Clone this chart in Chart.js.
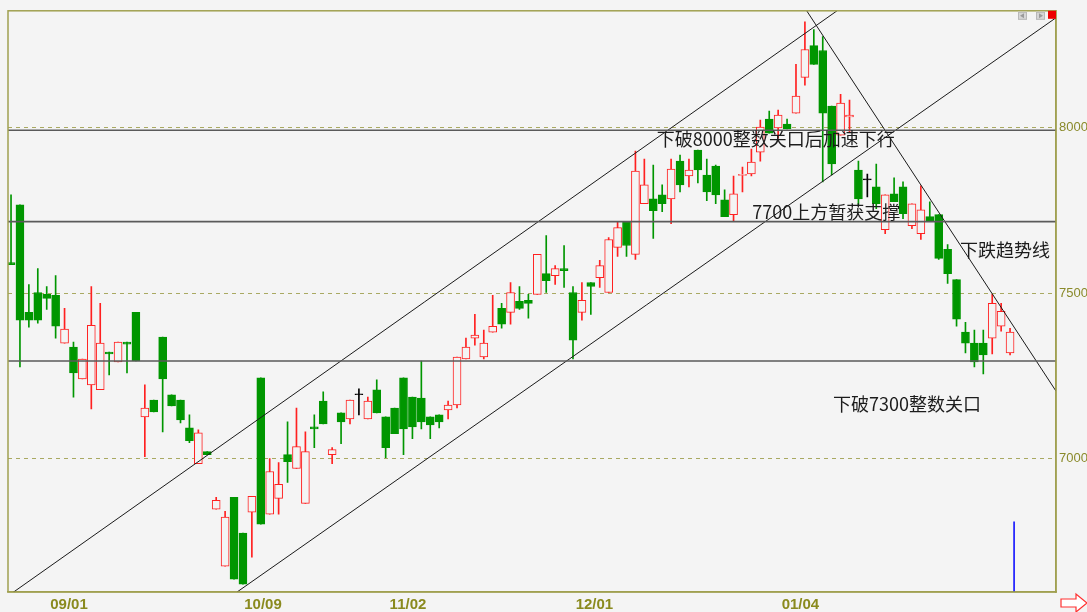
<!DOCTYPE html>
<html>
<head>
<meta charset="utf-8">
<script src="https://cdn.jsdelivr.net/npm/chart.js@4.4.0/dist/chart.umd.min.js"></script>
<style>
html, body { margin: 0; padding: 0; background: #f4f4f4; }
#wrap { width: 1087px; height: 612px; position: relative; }
</style>
</head>
<body>
<div id="wrap"><canvas id="chart"></canvas></div>
<script>
// daily candles
const openP = [7592,7767,7442,7502,7496,7493,7349,7337,7241,7223,7208,7322,7292,7352,7442,7126,7177,7367,7193,7177,
  7093,6985,7021,6847,6675,6883,6775,6838,7244,6832,6880,7012,6970,6865,7096,7174,7012,7138,7120,7193,
  7120,7208,7126,7153,7244,7186,7183,7126,7132,7147,7162,7301,7364,7307,7382,7454,7442,7475,7478,7496,
  7559,7553,7574,7502,7442,7532,7547,7502,7638,7716,7617,7770,7785,7797,7785,7899,7854,7932,7857,7884,
  7782,7737,7856,7860,7926,8026,7999,8011,8044,8152,8248,8233,8065,7977,8032,7872,7842,7821,7692,7800,
  7821,7704,7680,7731,7737,7632,7541,7382,7349,7349,7364,7400,7319];
const highP = [7797,7767,7526,7574,7520,7553,7454,7352,7301,7520,7469,7322,7352,7352,7442,7223,7177,7367,7193,7177,
  7132,7087,7021,6883,6841,6883,6775,6886,7244,7000,6988,7111,7153,7081,7132,7202,7033,7138,7177,7211,
  7186,7238,7126,7153,7244,7186,7295,7126,7132,7174,7307,7364,7436,7388,7493,7469,7532,7520,7496,7617,
  7674,7583,7644,7520,7532,7532,7599,7668,7716,7716,7929,7905,7887,7827,7905,7917,7905,7932,7905,7887,
  7812,7854,7881,7935,8023,8050,8053,8026,8191,8320,8296,8275,8065,8101,8083,7899,7860,7890,7797,7848,
  7836,7770,7824,7776,7737,7647,7541,7412,7388,7388,7496,7469,7394];
const lowP = [7586,7277,7397,7409,7451,7364,7349,7186,7241,7150,7208,7253,7292,7259,7295,7006,7141,7081,7159,7108,
  7048,6985,7012,6847,6675,6636,6621,6702,6802,6832,6832,6928,6970,6865,7033,7105,6985,7045,7105,7132,
  7120,7138,7003,7075,7012,7060,7090,7060,7093,7120,7153,7301,7343,7301,7382,7394,7406,7451,7424,7496,
  7502,7526,7517,7301,7418,7436,7517,7502,7611,7611,7602,7770,7665,7746,7710,7806,7821,7833,7779,7770,
  7731,7719,7806,7854,7899,7983,7968,7996,8044,8128,8191,7836,7857,7977,7986,7767,7791,7755,7680,7776,
  7725,7695,7662,7719,7602,7529,7400,7319,7277,7256,7316,7385,7313];
const closeP = [7586,7418,7418,7418,7484,7400,7391,7259,7301,7403,7349,7316,7352,7346,7295,7153,7141,7241,7159,7117,
  7054,7078,7012,6874,6823,6636,6621,6886,6802,6961,6922,6991,7036,7021,7090,7105,7027,7111,7177,7193,
  7174,7138,7033,7075,7090,7096,7111,7102,7111,7162,7307,7337,7373,7349,7400,7406,7502,7454,7469,7617,
  7538,7574,7568,7358,7478,7520,7583,7662,7698,7644,7869,7827,7749,7770,7875,7827,7872,7872,7806,7797,
  7731,7800,7857,7896,8002,7983,8038,7996,8095,8236,8191,8044,7890,8074,8038,7785,7842,7770,7797,7776,
  7740,7770,7752,7719,7605,7559,7421,7349,7292,7313,7469,7445,7382];

const xTickPos = [6.5, 28.25, 44.5, 65.4, 88.5];
const xTickText = ['09/01', '10/09', '11/02', '12/01', '01/04'];
const yTickVals = [7000, 7500, 8000];

// drawn lines: [candle index, price]
const hLevels = [7992, 7716, 7295];
const channelUp = [[-0.34, 6585], [92.6, 8353]];
const channelLow = [[25.34, 6597], [117.15, 8332]];
const downTrend = [[89.2, 8353], [117.15, 7204]];
const cursorLine = [[112.45, 6597], [112.45, 6810]];

const notes = [
  ['下破8000整数关口后加速下行', 72.4, 7964],
  ['7700上方暂获支撑', 83.1, 7746],
  ['下跌趋势线', 106.4, 7629],
  ['下破7300整数关口', 92.15, 7165]
];

const X_MIN = -0.34, X_MAX = 117.15;
const Y_MIN = 6597, Y_MAX = 8353;

const UP = '#ff2020';
const DOWN = '#009600';
const FLAT = '#000000';
const BG = '#f4f4f4';
const OLIVE = '#a0a050';

function candleColor(i) {
  if (closeP[i] > openP[i]) return UP;
  if (closeP[i] < openP[i]) return DOWN;
  return FLAT;
}

function lineSet(points, color, width) {
  return {
    type: 'line',
    order: -1,
    data: points.map(p => ({ x: p[0], y: p[1] })),
    borderColor: color,
    borderWidth: width,
    pointRadius: 0,
    fill: false,
    tension: 0
  };
}

const datasets = [
  {
    type: 'bar',
    order: 1,
    grouped: false,
    barThickness: 1,
    data: lowP.map((l, i) => ({ x: i, y: [l, highP[i]] })),
    backgroundColor: closeP.map((c, i) => candleColor(i)),
    borderWidth: 0
  },
  {
    type: 'bar',
    order: 0,
    grouped: false,
    barThickness: 8,
    minBarLength: 1,
    borderSkipped: false,
    borderWidth: 1,
    data: openP.map((o, i) => ({ x: i, y: [o, closeP[i]] })),
    backgroundColor: closeP.map((c, i) => candleColor(i) === UP ? BG : candleColor(i)),
    borderColor: closeP.map((c, i) => candleColor(i))
  }
];

hLevels.forEach(v => datasets.push(lineSet([[X_MIN - 1, v], [X_MAX + 1, v]], '#5a5a5a', 1.6)));
datasets.push(lineSet(channelUp, '#1a1a1a', 1));
datasets.push(lineSet(channelLow, '#1a1a1a', 1));
datasets.push(lineSet(downTrend, '#1a1a1a', 1));
datasets.push(lineSet(cursorLine, '#0000ff', 1.5));

const decor = {
  id: 'decor',
  afterDraw(chart) {
    const { ctx, chartArea: a, scales } = chart;
    ctx.save();

    // notes
    ctx.font = '18px "Noto Sans CJK SC", sans-serif';
    ctx.fillStyle = '#1c1c1c';
    ctx.textBaseline = 'middle';
    ctx.textAlign = 'left';
    notes.forEach(n => {
      ctx.fillText(n[0], scales.x.getPixelForValue(n[1]), scales.y.getPixelForValue(n[2]));
    });

    // frame
    ctx.strokeStyle = OLIVE;
    ctx.lineWidth = 1.5;
    ctx.strokeRect(a.left, a.top, a.right - a.left, a.bottom - a.top);

    // scroll buttons top right
    [a.right - 38, a.right - 20].forEach((bx, k) => {
      ctx.fillStyle = '#d6d6d6';
      ctx.fillRect(bx, a.top + 1, 9, 8);
      ctx.strokeStyle = '#b8b8b8';
      ctx.lineWidth = 1;
      ctx.strokeRect(bx + 0.5, a.top + 1.5, 8, 7);
      ctx.fillStyle = '#9a9a9a';
      ctx.beginPath();
      if (k === 0) {
        ctx.moveTo(bx + 2, a.top + 5); ctx.lineTo(bx + 6, a.top + 2.5); ctx.lineTo(bx + 6, a.top + 7.5);
      } else {
        ctx.moveTo(bx + 7, a.top + 5); ctx.lineTo(bx + 3, a.top + 2.5); ctx.lineTo(bx + 3, a.top + 7.5);
      }
      ctx.fill();
    });
    ctx.fillStyle = '#ee0000';
    ctx.fillRect(a.right - 8, a.top, 8, 8);

    // arrow bottom right
    const ax = a.right + 5, ay = a.bottom + 11;
    ctx.beginPath();
    ctx.moveTo(ax, ay - 4);
    ctx.lineTo(ax + 15, ay - 4);
    ctx.lineTo(ax + 15, ay - 9);
    ctx.lineTo(ax + 26, ay);
    ctx.lineTo(ax + 15, ay + 9);
    ctx.lineTo(ax + 15, ay + 4);
    ctx.lineTo(ax, ay + 4);
    ctx.closePath();
    ctx.fillStyle = '#ffffff';
    ctx.fill();
    ctx.strokeStyle = '#ff3030';
    ctx.lineWidth = 1.2;
    ctx.stroke();

    ctx.restore();
  }
};

new Chart(document.getElementById('chart'), {
  type: 'bar',
  data: { datasets: datasets },
  options: {
    responsive: true,
    maintainAspectRatio: false,
    animation: false,
    events: [],
    layout: { padding: { left: 8, top: 8, right: 0, bottom: 0 } },
    plugins: { legend: { display: false }, tooltip: { enabled: false } },
    scales: {
      x: {
        type: 'linear',
        min: X_MIN,
        max: X_MAX,
        offset: false,
        grid: { display: false, offset: false, drawTicks: false },
        border: { display: true, color: OLIVE, width: 1.5 },
        afterBuildTicks: scale => { scale.ticks = xTickPos.map(v => ({ value: v })); },
        afterFit: scale => { scale.height = 20; },
        ticks: {
          autoSkip: false,
          maxRotation: 0,
          padding: 4,
          color: '#8a8a1e',
          font: { family: '"Liberation Sans", Arial, sans-serif', size: 15, weight: 'bold' },
          callback: (value, index) => xTickText[index]
        }
      },
      y: {
        type: 'linear',
        position: 'right',
        min: Y_MIN,
        max: Y_MAX,
        beginAtZero: false,
        grid: { color: '#a9a962', lineWidth: 1, drawTicks: false },
        border: { display: true, color: OLIVE, width: 1.5, dash: [4, 4] },
        afterBuildTicks: scale => { scale.ticks = yTickVals.map(v => ({ value: v })); },
        afterFit: scale => { scale.width = 31; },
        ticks: {
          padding: 3,
          color: '#8a8a2a',
          font: { family: '"Liberation Sans", Arial, sans-serif', size: 13 },
          callback: value => String(value)
        }
      }
    }
  },
  plugins: [decor]
});
</script>
</body>
</html>
